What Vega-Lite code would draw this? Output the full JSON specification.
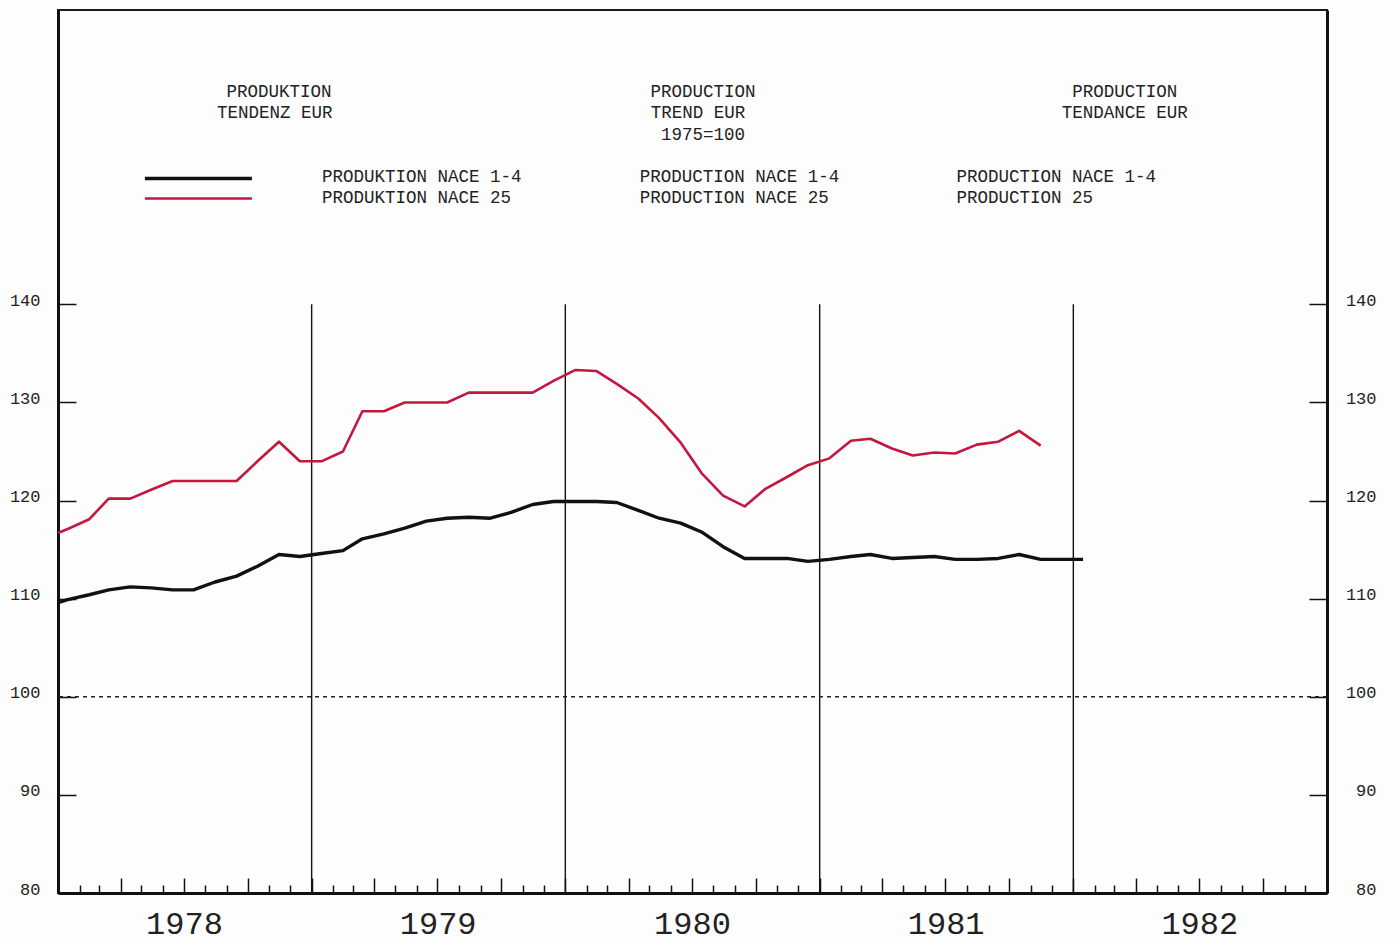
{
  "$schema": "https://vega.github.io/schema/vega-lite/v6.json",
  "autosize": "none",
  "width": 1269,
  "height": 883,
  "padding": {"left": 58, "top": 10, "right": 67, "bottom": 49},
  "background": "#fdfdfd",
  "config": {
    "view": {"stroke": "#1a1a2e", "strokeWidth": 2},
    "font": "Liberation Mono"
  },
  "datasets": {
    "series": [
      {"date": "1978-01-01", "series": "NACE 1-4", "value": 109.6},
      {"date": "1978-01-15", "series": "NACE 1-4", "value": 109.9},
      {"date": "1978-02-15", "series": "NACE 1-4", "value": 110.4},
      {"date": "1978-03-15", "series": "NACE 1-4", "value": 110.9},
      {"date": "1978-04-15", "series": "NACE 1-4", "value": 111.2},
      {"date": "1978-05-15", "series": "NACE 1-4", "value": 111.1},
      {"date": "1978-06-15", "series": "NACE 1-4", "value": 110.9},
      {"date": "1978-07-15", "series": "NACE 1-4", "value": 110.9},
      {"date": "1978-08-15", "series": "NACE 1-4", "value": 111.7},
      {"date": "1978-09-15", "series": "NACE 1-4", "value": 112.3},
      {"date": "1978-10-15", "series": "NACE 1-4", "value": 113.3},
      {"date": "1978-11-15", "series": "NACE 1-4", "value": 114.5},
      {"date": "1978-12-15", "series": "NACE 1-4", "value": 114.3},
      {"date": "1979-01-15", "series": "NACE 1-4", "value": 114.6},
      {"date": "1979-02-15", "series": "NACE 1-4", "value": 114.9},
      {"date": "1979-03-15", "series": "NACE 1-4", "value": 116.1},
      {"date": "1979-04-15", "series": "NACE 1-4", "value": 116.6},
      {"date": "1979-05-15", "series": "NACE 1-4", "value": 117.2},
      {"date": "1979-06-15", "series": "NACE 1-4", "value": 117.9},
      {"date": "1979-07-15", "series": "NACE 1-4", "value": 118.2},
      {"date": "1979-08-15", "series": "NACE 1-4", "value": 118.3},
      {"date": "1979-09-15", "series": "NACE 1-4", "value": 118.2},
      {"date": "1979-10-15", "series": "NACE 1-4", "value": 118.8},
      {"date": "1979-11-15", "series": "NACE 1-4", "value": 119.6},
      {"date": "1979-12-15", "series": "NACE 1-4", "value": 119.9},
      {"date": "1980-01-15", "series": "NACE 1-4", "value": 119.9},
      {"date": "1980-02-15", "series": "NACE 1-4", "value": 119.9},
      {"date": "1980-03-15", "series": "NACE 1-4", "value": 119.8},
      {"date": "1980-04-15", "series": "NACE 1-4", "value": 119.0},
      {"date": "1980-05-15", "series": "NACE 1-4", "value": 118.2},
      {"date": "1980-06-15", "series": "NACE 1-4", "value": 117.7},
      {"date": "1980-07-15", "series": "NACE 1-4", "value": 116.8},
      {"date": "1980-08-15", "series": "NACE 1-4", "value": 115.3},
      {"date": "1980-09-15", "series": "NACE 1-4", "value": 114.1},
      {"date": "1980-10-15", "series": "NACE 1-4", "value": 114.1},
      {"date": "1980-11-15", "series": "NACE 1-4", "value": 114.1},
      {"date": "1980-12-15", "series": "NACE 1-4", "value": 113.8},
      {"date": "1981-01-15", "series": "NACE 1-4", "value": 114.0},
      {"date": "1981-02-15", "series": "NACE 1-4", "value": 114.3},
      {"date": "1981-03-15", "series": "NACE 1-4", "value": 114.5},
      {"date": "1981-04-15", "series": "NACE 1-4", "value": 114.1},
      {"date": "1981-05-15", "series": "NACE 1-4", "value": 114.2},
      {"date": "1981-06-15", "series": "NACE 1-4", "value": 114.3},
      {"date": "1981-07-15", "series": "NACE 1-4", "value": 114.0},
      {"date": "1981-08-15", "series": "NACE 1-4", "value": 114.0},
      {"date": "1981-09-15", "series": "NACE 1-4", "value": 114.1},
      {"date": "1981-10-15", "series": "NACE 1-4", "value": 114.5},
      {"date": "1981-11-15", "series": "NACE 1-4", "value": 114.0},
      {"date": "1981-12-15", "series": "NACE 1-4", "value": 114.0},
      {"date": "1982-01-15", "series": "NACE 1-4", "value": 114.0},
      {"date": "1978-01-01", "series": "NACE 25", "value": 116.7},
      {"date": "1978-01-15", "series": "NACE 25", "value": 117.1},
      {"date": "1978-02-15", "series": "NACE 25", "value": 118.1},
      {"date": "1978-03-15", "series": "NACE 25", "value": 120.2},
      {"date": "1978-04-15", "series": "NACE 25", "value": 120.2},
      {"date": "1978-05-15", "series": "NACE 25", "value": 121.1},
      {"date": "1978-06-15", "series": "NACE 25", "value": 122.0},
      {"date": "1978-07-15", "series": "NACE 25", "value": 122.0},
      {"date": "1978-08-15", "series": "NACE 25", "value": 122.0},
      {"date": "1978-09-15", "series": "NACE 25", "value": 122.0},
      {"date": "1978-10-15", "series": "NACE 25", "value": 124.0},
      {"date": "1978-11-15", "series": "NACE 25", "value": 126.0},
      {"date": "1978-12-15", "series": "NACE 25", "value": 124.0},
      {"date": "1979-01-15", "series": "NACE 25", "value": 124.0},
      {"date": "1979-02-15", "series": "NACE 25", "value": 125.0},
      {"date": "1979-03-15", "series": "NACE 25", "value": 129.1},
      {"date": "1979-04-15", "series": "NACE 25", "value": 129.1},
      {"date": "1979-05-15", "series": "NACE 25", "value": 130.0},
      {"date": "1979-06-15", "series": "NACE 25", "value": 130.0},
      {"date": "1979-07-15", "series": "NACE 25", "value": 130.0},
      {"date": "1979-08-15", "series": "NACE 25", "value": 131.0},
      {"date": "1979-09-15", "series": "NACE 25", "value": 131.0},
      {"date": "1979-10-15", "series": "NACE 25", "value": 131.0},
      {"date": "1979-11-15", "series": "NACE 25", "value": 131.0},
      {"date": "1979-12-15", "series": "NACE 25", "value": 132.2},
      {"date": "1980-01-15", "series": "NACE 25", "value": 133.3},
      {"date": "1980-02-15", "series": "NACE 25", "value": 133.2},
      {"date": "1980-03-15", "series": "NACE 25", "value": 131.9},
      {"date": "1980-04-15", "series": "NACE 25", "value": 130.4},
      {"date": "1980-05-15", "series": "NACE 25", "value": 128.4},
      {"date": "1980-06-15", "series": "NACE 25", "value": 125.9},
      {"date": "1980-07-15", "series": "NACE 25", "value": 122.8},
      {"date": "1980-08-15", "series": "NACE 25", "value": 120.5},
      {"date": "1980-09-15", "series": "NACE 25", "value": 119.4},
      {"date": "1980-10-15", "series": "NACE 25", "value": 121.2},
      {"date": "1980-11-15", "series": "NACE 25", "value": 122.4},
      {"date": "1980-12-15", "series": "NACE 25", "value": 123.6},
      {"date": "1981-01-15", "series": "NACE 25", "value": 124.3},
      {"date": "1981-02-15", "series": "NACE 25", "value": 126.1},
      {"date": "1981-03-15", "series": "NACE 25", "value": 126.3},
      {"date": "1981-04-15", "series": "NACE 25", "value": 125.3},
      {"date": "1981-05-15", "series": "NACE 25", "value": 124.6},
      {"date": "1981-06-15", "series": "NACE 25", "value": 124.9},
      {"date": "1981-07-15", "series": "NACE 25", "value": 124.8},
      {"date": "1981-08-15", "series": "NACE 25", "value": 125.7},
      {"date": "1981-09-15", "series": "NACE 25", "value": 126.0},
      {"date": "1981-10-15", "series": "NACE 25", "value": 127.1},
      {"date": "1981-11-15", "series": "NACE 25", "value": 125.6}
    ],
    "years": [
      {"date": "1979-01-01"}, {"date": "1980-01-01"}, {"date": "1981-01-01"}, {"date": "1982-01-01"}
    ],
    "yearLabels": [
      {"date": "1978-07-02", "label": "1978"},
      {"date": "1979-07-02", "label": "1979"},
      {"date": "1980-07-02", "label": "1980"},
      {"date": "1981-07-02", "label": "1981"},
      {"date": "1982-07-02", "label": "1982"}
    ],
    "titles": [
      {"date": "1978-11-15", "value": 161.67, "text": "PRODUKTION"},
      {"date": "1978-11-09", "value": 159.53, "text": "TENDENZ EUR"},
      {"date": "1980-07-17", "value": 161.67, "text": "PRODUCTION"},
      {"date": "1980-07-10", "value": 159.53, "text": "TREND EUR"},
      {"date": "1980-07-17", "value": 157.29, "text": "1975=100"},
      {"date": "1982-03-16", "value": 161.67, "text": "PRODUCTION"},
      {"date": "1982-03-16", "value": 159.53, "text": "TENDANCE EUR"}
    ],
    "legendTexts": [
      {"date": "1979-01-16", "value": 153.02, "text": "PRODUKTION NACE 1-4"},
      {"date": "1979-01-16", "value": 150.88, "text": "PRODUKTION NACE 25"},
      {"date": "1980-04-17", "value": 153.02, "text": "PRODUCTION NACE 1-4"},
      {"date": "1980-04-17", "value": 150.88, "text": "PRODUCTION NACE 25"},
      {"date": "1981-07-17", "value": 153.02, "text": "PRODUCTION NACE 1-4"},
      {"date": "1981-07-17", "value": 150.88, "text": "PRODUCTION 25"}
    ],
    "legendLines": [
      {"start": "1978-05-06", "end": "1978-10-07", "value": 152.82, "series": "NACE 1-4"},
      {"start": "1978-05-06", "end": "1978-10-07", "value": 150.78, "series": "NACE 25"}
    ]
  },
  "resolve": {"axis": {"y": "independent"}},
  "layer": [
    {
      "data": {"name": "years"},
      "mark": {"type": "rule", "color": "#111", "strokeWidth": 1.4},
      "encoding": {
        "x": {"field": "date", "type": "temporal",
          "scale": {"domain": ["1978-01-01", "1983-01-01"]},
          "axis": {"orient": "bottom", "labels": false, "title": null, "grid": false,
            "tickCount": {"interval": "month", "step": 1},
            "tickSize": {"condition": {"test": "month(datum.value) % 3 === 0", "value": -15}, "value": -8},
            "tickColor": "#111", "tickWidth": 1.5, "domainColor": "#111", "domainWidth": 3}},
        "y": {"datum": 140, "type": "quantitative",
          "scale": {"domain": [80, 170], "nice": false, "zero": false},
          "axis": {"orient": "left", "values": [80, 90, 100, 110, 120, 130, 140], "title": null, "grid": false,
            "tickSize": -18, "tickColor": "#111", "tickWidth": 1.5, "domainColor": "#111", "domainWidth": 3,
            "labelFont": "Liberation Mono", "labelFontSize": 17, "labelColor": "#222", "labelPadding": 36, "labelOffset": -4}},
        "y2": {"datum": 80}
      }
    },
    {
      "data": {"values": [{"a": 1}]},
      "mark": {"type": "rule", "color": "#222", "strokeWidth": 1.5, "strokeDash": [4, 4]},
      "encoding": {
        "y": {"datum": 100, "type": "quantitative",
          "axis": {"orient": "right", "values": [80, 90, 100, 110, 120, 130, 140], "title": null, "grid": false,
            "tickSize": -18, "tickColor": "#111", "tickWidth": 1.5, "domainColor": "#111", "domainWidth": 3,
            "labelFont": "Liberation Mono", "labelFontSize": 17, "labelColor": "#222", "labelAlign": "right", "labelPadding": 67, "labelOffset": -4}}
      }
    },
    {
      "data": {"name": "series"},
      "mark": {"type": "line", "strokeJoin": "round"},
      "encoding": {
        "x": {"field": "date", "type": "temporal"},
        "y": {"field": "value", "type": "quantitative", "axis": null},
        "color": {"field": "series", "type": "nominal", "legend": null,
          "scale": {"domain": ["NACE 1-4", "NACE 25"], "range": ["#111111", "#c4173f"]}},
        "strokeWidth": {"field": "series", "type": "nominal", "legend": null,
          "scale": {"domain": ["NACE 1-4", "NACE 25"], "range": [3.4, 2.6]}}
      }
    },
    {
      "data": {"name": "legendLines"},
      "mark": {"type": "rule"},
      "encoding": {
        "x": {"field": "start", "type": "temporal"},
        "x2": {"field": "end"},
        "y": {"field": "value", "type": "quantitative", "axis": null},
        "color": {"field": "series", "type": "nominal", "legend": null},
        "strokeWidth": {"field": "series", "type": "nominal", "legend": null}
      }
    },
    {
      "data": {"name": "titles"},
      "mark": {"type": "text", "align": "center", "baseline": "middle", "font": "Liberation Mono", "fontSize": 17.5, "color": "#222"},
      "encoding": {
        "x": {"field": "date", "type": "temporal"},
        "y": {"field": "value", "type": "quantitative", "axis": null},
        "text": {"field": "text"}
      }
    },
    {
      "data": {"name": "legendTexts"},
      "mark": {"type": "text", "align": "left", "baseline": "middle", "font": "Liberation Mono", "fontSize": 17.5, "color": "#222"},
      "encoding": {
        "x": {"field": "date", "type": "temporal"},
        "y": {"field": "value", "type": "quantitative", "axis": null},
        "text": {"field": "text"}
      }
    },
    {
      "data": {"name": "yearLabels"},
      "mark": {"type": "text", "align": "center", "baseline": "middle", "font": "Liberation Mono", "fontSize": 32, "color": "#222"},
      "encoding": {
        "x": {"field": "date", "type": "temporal"},
        "y": {"datum": 76.8, "type": "quantitative", "axis": null},
        "text": {"field": "label"}
      }
    }
  ]
}
